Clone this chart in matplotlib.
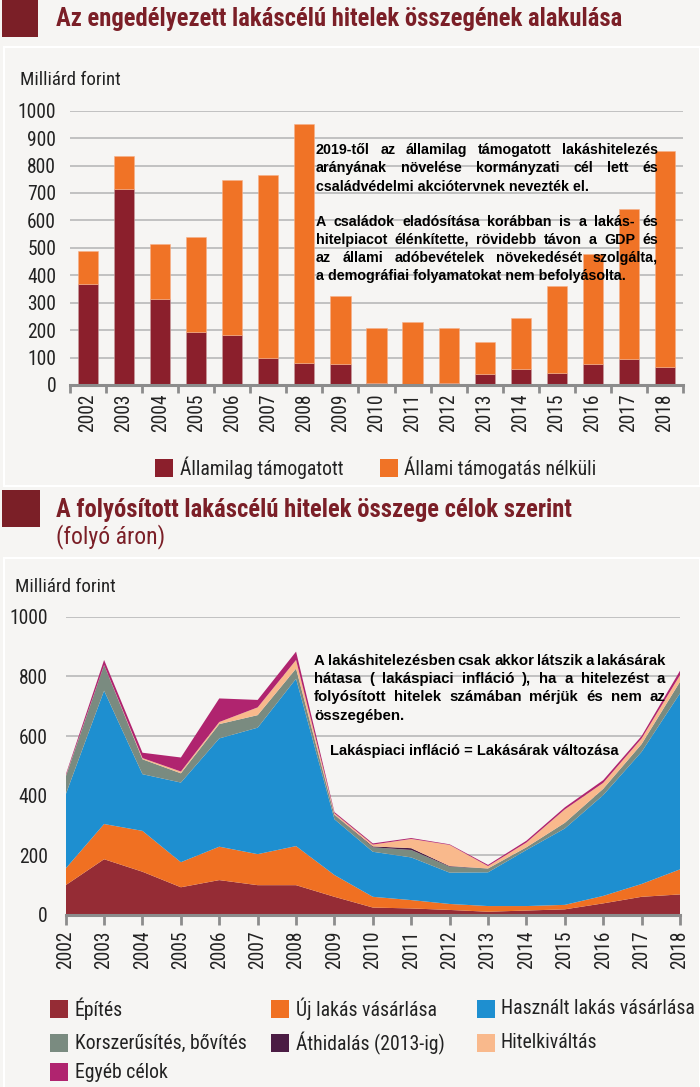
import matplotlib
matplotlib.use("Agg")
import matplotlib.pyplot as plt
from matplotlib.patches import Rectangle
from matplotlib import font_manager
import numpy as np

# ---------------- data ----------------
years = [str(y) for y in range(2002, 2019)]

# top chart (Milliárd forint)
allamilag_tamogatott = [367, 713, 315, 192, 181, 100, 81, 78, 8, 4, 8, 40, 60, 45, 77, 95, 67]
allami_nelkuli = [121, 123, 198, 347, 565, 667, 870, 245, 201, 227, 199, 117, 184, 315, 402, 547, 786]

# bottom chart (Milliárd forint)
epites = [100, 187, 145, 93, 117, 100, 100, 61, 25, 22, 17, 11, 15, 19, 39, 61, 69]
uj_lakas = [56, 118, 137, 84, 112, 104, 131, 73, 36, 28, 20, 19, 15, 15, 25, 43, 84]
hasznalt_lakas = [248, 447, 190, 267, 363, 424, 561, 187, 151, 143, 105, 113, 188, 256, 338, 443, 590]
korszerusites = [60, 86, 50, 31, 48, 42, 34, 14, 15, 25, 20, 13, 9, 19, 21, 26, 39]
athidalas = [0, 0, 0, 0, 0, 0, 0, 1, 3, 6, 2, 0, 0, 0, 0, 0, 0]
hitelkivaltas = [2, 0, 4, 6, 7, 26, 29, 5, 6, 31, 71, 8, 16, 45, 20, 19, 22]
egyeb = [4, 17, 18, 47, 79, 25, 28, 4, 4, 3, 2, 4, 6, 7, 9, 8, 15]

series_names = ["Építés", "Új lakás vásárlása", "Használt lakás vásárlása",
                "Korszerűsítés, bővítés", "Áthidalás (2013-ig)", "Hitelkiváltás", "Egyéb célok"]

# ---------------- style ----------------
W, H = 700, 1087
BG = "#f6f5f3"
DARKRED = "#7b1f27"
C_TAM = "#8b1f2c"
C_NEM = "#f07326"
area_colors = ["#952c35", "#f07022", "#1e8fd0", "#7a8b80", "#4b1c44", "#f9b98c", "#b0246f"]
GRID = "#bdbdbd"
AXC = "#8c8c8c"
TXT = "#222222"

names = {f.name for f in font_manager.fontManager.ttflist}
NARROW = "Liberation Sans"
for cand in ["Liberation Sans Narrow", "Arial Narrow", "Nimbus Sans Narrow", "Roboto Condensed",
             "Asap Condensed", "Barlow Semi Condensed", "DejaVu Sans"]:
    if cand in names:
        NARROW = cand
        break
BOLDF = "Liberation Sans"

fig = plt.figure(figsize=(W / 100, H / 100), dpi=100, facecolor=BG)
renderer = fig.canvas.get_renderer()


def fx(x):
    return x / W


def fy(y):
    return 1 - y / H


def ax_rect(l, t, r, b):
    return [fx(l), fy(b), (r - l) / W, (b - t) / H]


def measure(s, family, weight="normal", fs=10):
    t = fig.text(0, 0, s, family=family, weight=weight, fontsize=fs)
    w = t.get_window_extent(renderer).width
    t.remove()
    return w


def fit_fs(s, target, family, weight="normal"):
    return 10 * target / measure(s, family, weight, 10)


FS_TITLE = fit_fs("Az engedélyezett lakáscélú hitelek összegének alakulása", 567, NARROW, "bold")
FS_SUB = fit_fs("(folyó áron)", 109, NARROW)
FS_TICK = fit_fs("1000", 38, NARROW)
FS_UNIT = fit_fs("Milliárd forint", 100, NARROW)
FS_LEG = fit_fs("Használt lakás vásárlása", 193, NARROW)

# panel frames
fig.patches.append(Rectangle((fx(4), fy(486)), (W - 4) / W, (486 - 47) / H, transform=fig.transFigure,
                             fill=False, edgecolor="white", lw=1.5))
fig.patches.append(Rectangle((fx(4), fy(H + 5)), (W - 4) / W, (H + 5 - 558) / H, transform=fig.transFigure,
                             fill=False, edgecolor="white", lw=1.5))

# title squares
fig.patches.append(Rectangle((fx(2), fy(37)), 36 / W, 37 / H, transform=fig.transFigure,
                             facecolor=DARKRED, edgecolor="none"))
fig.patches.append(Rectangle((fx(2), fy(527)), 38 / W, 37 / H, transform=fig.transFigure,
                             facecolor=DARKRED, edgecolor="none"))

fig.text(fx(56), fy(19), "Az engedélyezett lakáscélú hitelek összegének alakulása", family=NARROW,
         weight="bold", fontsize=FS_TITLE, color=DARKRED, va="center", ha="left")
fig.text(fx(56), fy(510), "A folyósított lakáscélú hitelek összege célok szerint", family=NARROW,
         weight="bold", fontsize=FS_TITLE, color=DARKRED, va="center", ha="left")
fig.text(fx(56), fy(537), "(folyó áron)", family=NARROW, fontsize=FS_SUB, color=DARKRED,
         va="center", ha="left")

fig.text(fx(20), fy(80), "Milliárd forint", family=NARROW, fontsize=FS_UNIT, color=TXT, va="center")
fig.text(fx(15), fy(587), "Milliárd forint", family=NARROW, fontsize=FS_UNIT, color=TXT, va="center")

# ---------------- top chart ----------------
ax1 = fig.add_axes(ax_rect(70, 110.7, 683, 385))
ax1.set_facecolor("none")
x = np.arange(len(years))
ax1.bar(x, allamilag_tamogatott, width=0.56, color=C_TAM, edgecolor="#c9a0a0", linewidth=0.4, zorder=3)
ax1.bar(x, allami_nelkuli, bottom=allamilag_tamogatott, width=0.56, color=C_NEM,
        edgecolor="#f7b08a", linewidth=0.4, zorder=3)
ax1.set_xlim(-0.5, len(years) - 0.5)
ax1.set_ylim(0, 1000)
ax1.set_yticks(range(0, 1001, 100))
ax1.set_xticks(x)
ax1.set_xticklabels(years, rotation=90, family=NARROW, fontsize=FS_TICK)
ax1.set_xticks(np.arange(-0.5, len(years), 1), minor=True)
ax1.tick_params(axis="x", which="major", length=0, pad=6, colors=TXT)
ax1.tick_params(axis="x", which="minor", length=6, width=2, color=AXC)
ax1.tick_params(axis="y", length=0, pad=10, labelsize=FS_TICK, colors=TXT)
for lb in ax1.get_yticklabels():
    lb.set_family(NARROW)
ax1.grid(axis="y", color=GRID, lw=1.3, zorder=0)
ax1.set_axisbelow(True)
for s in ["top", "right", "left"]:
    ax1.spines[s].set_visible(False)
ax1.spines["bottom"].set_color(AXC)
ax1.spines["bottom"].set_linewidth(2.2)
ax1.spines["bottom"].set_zorder(4)

# top legend
for (sx, tx, col, lab) in [(155, 180, C_TAM, "Államilag támogatott"),
                           (380, 404, C_NEM, "Állami támogatás nélküli")]:
    fig.patches.append(Rectangle((fx(sx), fy(477)), 18 / W, 18 / H, transform=fig.transFigure,
                                 facecolor=col, edgecolor="none"))
    fig.text(fx(tx), fy(468), lab, family=NARROW, fontsize=FS_LEG, color=TXT, va="center")

# ---------------- bottom chart ----------------
ax2 = fig.add_axes(ax_rect(65.7, 616.7, 680, 915))
ax2.set_facecolor("none")
yrs = np.arange(2002, 2019)
ax2.stackplot(yrs, epites, uj_lakas, hasznalt_lakas, korszerusites, athidalas, hitelkivaltas, egyeb,
              colors=area_colors, labels=series_names, zorder=3, linewidth=0)
ax2.set_xlim(2002, 2018)
ax2.set_ylim(0, 1000)
ax2.set_yticks(range(0, 1001, 200))
ax2.set_xticks(yrs)
ax2.set_xticklabels(years, rotation=90, family=NARROW, fontsize=FS_TICK)
ax2.tick_params(axis="x", length=7, width=2, color=AXC, pad=4, colors=TXT)
ax2.tick_params(axis="x", color=AXC)
ax2.tick_params(axis="y", length=0, pad=13, labelsize=FS_TICK, colors=TXT)
for lb in ax2.get_yticklabels():
    lb.set_family(NARROW)
ax2.grid(axis="y", color=GRID, lw=1.3, zorder=0)
ax2.set_axisbelow(True)
for s in ["top", "right", "left"]:
    ax2.spines[s].set_visible(False)
ax2.spines["bottom"].set_color(AXC)
ax2.spines["bottom"].set_linewidth(2.2)
ax2.spines["bottom"].set_zorder(4)

# bottom legend
leg_pos = [(50, 75, 1009), (271, 296, 1009), (477, 501, 1009),
           (50, 75, 1043), (271, 296, 1043), (477, 501, 1043),
           (50, 75, 1072)]
for (sx, tx, cy), col, lab in zip(leg_pos, area_colors, series_names):
    fig.patches.append(Rectangle((fx(sx), fy(cy + 9)), 18 / W, 18 / H, transform=fig.transFigure,
                                 facecolor=col, edgecolor="none"))
    fig.text(fx(tx), fy(cy), lab, family=NARROW, fontsize=FS_LEG, color=TXT, va="center")


# ---------------- justified annotations ----------------
def put_line(s, x0, x1, y, justify, fs):
    if not justify:
        fig.text(fx(x0), fy(y), s, family=BOLDF, weight="bold", fontsize=fs, color="black",
                 va="center", ha="left")
        return
    words = s.split()
    widths = [measure(w, BOLDF, "bold", fs) for w in words]
    gap = ((x1 - x0) - sum(widths)) / (len(words) - 1)
    cx = x0
    for w, wd in zip(words, widths):
        fig.text(fx(cx), fy(y), w, family=BOLDF, weight="bold", fontsize=fs, color="black",
                 va="center", ha="left")
        cx += wd + gap


top_lines = [
    ("2019-től az államilag támogatott lakáshitelezés", True, 150),
    ("arányának növelése kormányzati cél lett és", True, 168),
    ("családvédelmi akciótervnek nevezték el.", False, 187),
    ("A családok eladósítása korábban is a lakás- és", True, 222),
    ("hitelpiacot élénkítette, rövidebb távon a GDP és", True, 240),
    ("az állami adóbevételek növekedését szolgálta,", True, 258),
    ("a demográfiai folyamatokat nem befolyásolta.", False, 276),
]
for s, j, y in top_lines:
    put_line(s, 316, 658, y, j, 10.3)

bot_lines = [
    ("A lakáshitelezésben csak akkor látszik a lakásárak", True, 661),
    ("hátasa ( lakáspiaci infláció ), ha a hitelezést a", True, 679),
    ("folyósított hitelek számában mérjük és nem az", True, 697),
    ("összegében.", False, 716),
]
for s, j, y in bot_lines:
    put_line(s, 314, 665, y, j, 10.8)
FS_INFL = fit_fs("Lakáspiaci infláció = Lakásárak változása", 288, BOLDF, "bold")
put_line("Lakáspiaci infláció = Lakásárak változása", 330, 618, 751, False, FS_INFL)

fig.savefig("out.png", dpi=100, facecolor=BG)
